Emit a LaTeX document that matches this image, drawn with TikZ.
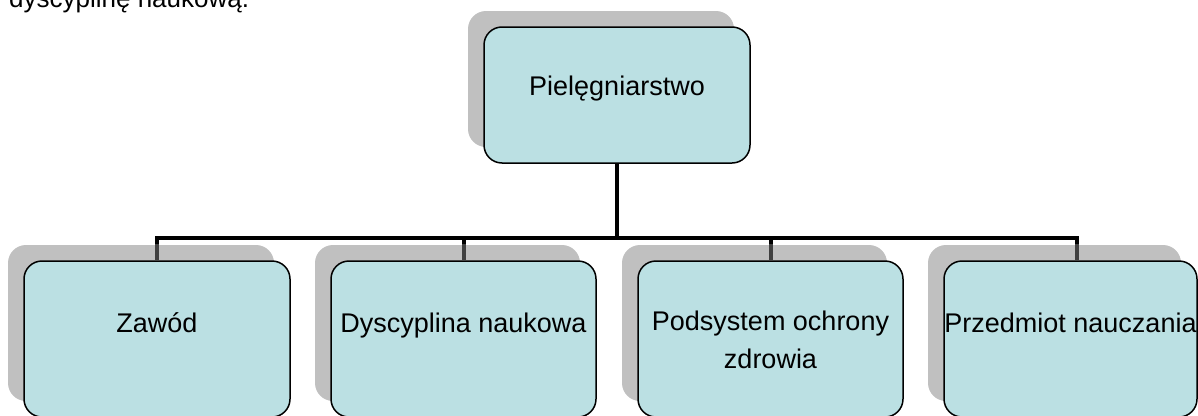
\documentclass[tikz,border=0pt]{standalone}
\usepackage{fontspec}
\setmainfont{Liberation Sans}
\definecolor{boxfill}{RGB}{187,224,227}
\definecolor{shadowgray}{RGB}{192,192,192}
\definecolor{stemgray}{RGB}{64,64,64}
\begin{document}
\begin{tikzpicture}[x=1pt,y=-1pt,
  box/.style={draw=black, line width=1.5pt, fill=boxfill, rounded corners=18pt,
    inner sep=0pt, align=center, font=\fontsize{27}{38}\selectfont},
  shade/.style={fill=shadowgray, rounded corners=18pt},
  conn/.style={draw=black, line width=4pt},
  stemover/.style={draw=stemgray, line width=4pt}]
\useasboundingbox (0,0) rectangle (1198,415);
\clip (0,0) rectangle (1198,415);
% shadows
\fill[shade] (468,11) rectangle (734,147);
\fill[shade] (8,245) rectangle (274,401);
\fill[shade] (315,245) rectangle (580,401);
\fill[shade] (622,245) rectangle (887,401);
\fill[shade] (928,245) rectangle (1181,401);
% intro text (cut off line of the page)
\node[anchor=base west, inner sep=0pt, font=\fontsize{26}{30}\selectfont] (intro) at (9,7) {dyscyplinę naukową.};
% boxes
\node[box, minimum width=266pt, minimum height=136pt, text height=10pt, text depth=10pt] (top) at (617,95) {Pielęgniarstwo};
\node[box, minimum width=266pt, minimum height=156pt, text height=8pt, text depth=22pt] (b1) at (157,339) {Zawód};
\node[box, minimum width=265pt, minimum height=156pt, text height=8pt, text depth=22pt] (b2) at (463.5,339) {Dyscyplina naukowa};
\node[box, minimum width=265pt, minimum height=156pt, text height=60pt, text depth=2pt] (b3) at (770.5,339) {Podsystem ochrony\\zdrowia};
\node[box, minimum width=253pt, minimum height=156pt, text height=8pt, text depth=22pt] (b4) at (1070.5,339) {Przedmiot nauczania};
% connectors
\coordinate (bus) at (617,238);
\draw[conn] (top.south) -- (bus);
\draw[conn] (bus) -| (b1.north);
\draw[conn] (bus) -| (b2.north);
\draw[conn] (bus) -| (b3.north);
\draw[conn] (bus) -| ([xshift=6.5pt]b4.north);
% stems over the shadows
\draw[stemover] ([yshift=16pt]b1.north) -- (b1.north);
\draw[stemover] ([yshift=16pt]b2.north) -- (b2.north);
\draw[stemover] ([yshift=16pt]b3.north) -- (b3.north);
\draw[stemover] ([xshift=6.5pt,yshift=16pt]b4.north) -- ([xshift=6.5pt]b4.north);
\end{tikzpicture}
\end{document}
